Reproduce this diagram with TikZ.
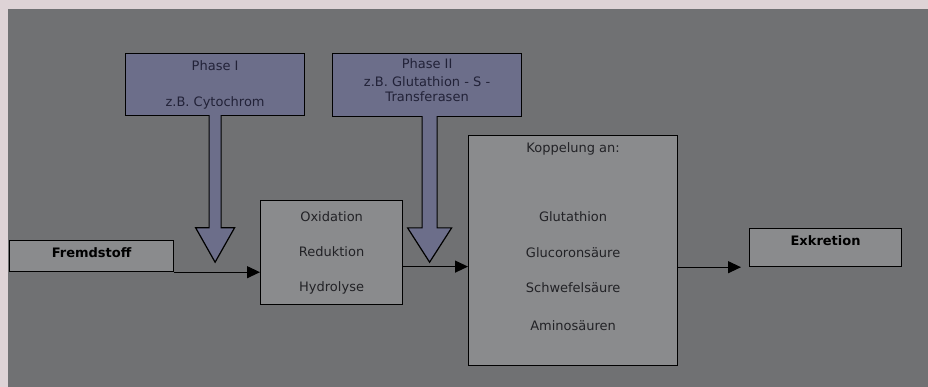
\documentclass[tikz,border=0pt]{standalone}
\usepackage{fontspec}
\setmainfont{DejaVu Sans}
\usetikzlibrary{positioning,arrows.meta}
\definecolor{pagepink}{RGB}{222,211,214}
\definecolor{panelgrey}{RGB}{112,113,115}
\definecolor{boxgrey}{RGB}{138,139,141}
\definecolor{phaseblue}{RGB}{108,110,138}
\definecolor{inkgrey}{RGB}{34,34,38}
\definecolor{inkblue}{RGB}{34,34,56}
\tikzset{
  stepbox/.style={
    draw=black,
    line width=1.2pt,
    fill=boxgrey,
    text=inkgrey,
    align=center,
    anchor=north west,
    inner sep=0pt,
    font=\fontsize{13}{16}\selectfont
  },
  phasebox/.style={stepbox, fill=phaseblue, text=inkblue},
  boldbox/.style={stepbox, text=black, font=\fontsize{13}{16}\selectfont\bfseries},
  steptext/.style={text=inkgrey, align=center, inner sep=0pt,
    font=\fontsize{13}{16}\selectfont},
  flow/.style={line width=1.2pt, -{Triangle[length=13pt,width=12pt]}},
  bigarrow/.style={draw=black, line width=1.2pt, fill=phaseblue}
}

\begin{document}
\begin{tikzpicture}[x=1pt,y=-1pt]

\useasboundingbox (0,0) rectangle (928,387);
\fill[pagepink] (0,0) rectangle (928,387);
\fill[panelgrey] (8,9) rectangle (928,387);

% enzyme phases
\node[phasebox, minimum width=179pt, minimum height=62pt] (phaseI) at (125,53)
  {Phase I\\[20pt]z.B. Cytochrom};
\node[phasebox, minimum width=189pt, minimum height=63pt] (phaseII) at (332,53) {};
\node[steptext, text=inkblue, below=5.8pt of phaseII.north] (phaseIItext)
  {Phase II\\[2pt]z.B. Glutathion - S -\\[-1pt]Transferasen};

% metabolism chain
\node[boldbox, minimum width=164pt, minimum height=31pt, text depth=7pt] (fremd) at (9,240)
  {Fremdstoff};
\node[stepbox, minimum width=142pt, minimum height=104pt] (ox) at (260,200)
  {Oxidation\\[19pt]Reduktion\\[19pt]Hydrolyse};
\node[stepbox, minimum width=209pt, minimum height=230pt] (kop) at (468,135) {};
\node[steptext, below=7.8pt of kop.north] (koptext)
  {Koppelung an:\\[53pt]Glutathion\\[20pt]Glucoronsäure\\[19pt]Schwefelsäure\\[22pt]Aminosäuren};
\node[boldbox, minimum width=152pt, minimum height=38pt, text depth=14pt] (exk) at (749,228)
  {Exkretion};

% block arrows
\begin{scope}[shift={(phaseI.south)}]
\draw[bigarrow]
  (-6,-1) -- (-6,111.5) -- (-19.5,111.5) -- (0,146) -- (19.5,111.5) -- (6,111.5) -- (6,-1);
\end{scope}
\begin{scope}[shift={([xshift=2.5pt]phaseII.south)}]
\draw[bigarrow]
  (-7.5,-1) -- (-7.5,110.7) -- (-22,110.7) -- (0,145) -- (22,110.7) -- (7.5,110.7) -- (7.5,-1);
\end{scope}

% flow arrows
\draw[flow]
  (fremd.south east) -- (fremd.south east -| ox.west);
\draw[flow]
  ([yshift=-14pt]ox.east) -- ([yshift=-14pt]ox.east -| kop.west);
\draw[flow, shorten >=8pt]
  (kop.east |- exk.south west) -- (exk.south west);

\end{tikzpicture}
\end{document}
